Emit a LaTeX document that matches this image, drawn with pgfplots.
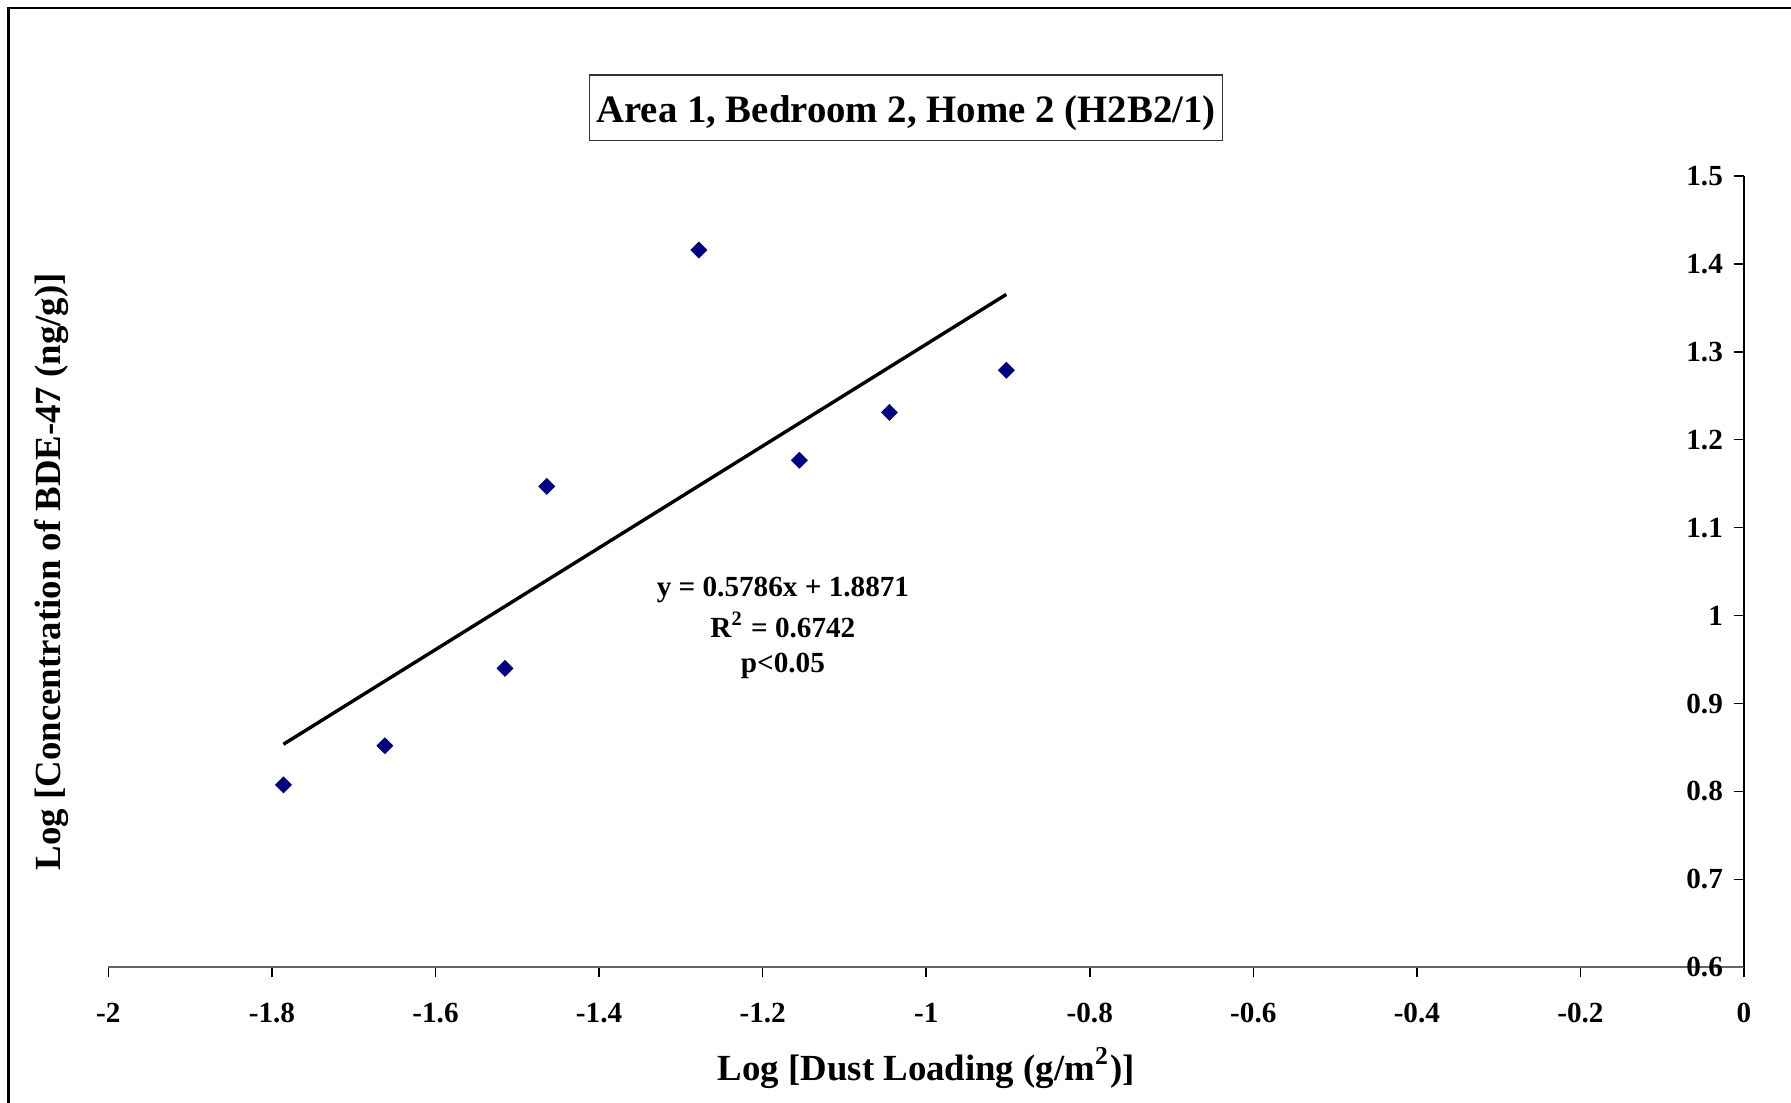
\documentclass[border=0pt]{standalone}
\usepackage{fontspec}
\setmainfont{Liberation Serif}
\usepackage{pgfplots}
\pgfplotsset{compat=1.18}
\definecolor{navy}{HTML}{000080}
\begin{document}
\begin{tikzpicture}
\useasboundingbox (0,0) rectangle (447.75pt,275.75pt);
\draw[line width=0.6pt] (2.1pt,-20pt) -- (2.1pt,273.7pt) -- (470pt,273.7pt);
\begin{axis}[
  at={(27.1pt,33.9pt)}, anchor=south west,
  scale only axis, width=408.9pt, height=197.9pt,
  xmin=-2, xmax=0, ymin=0.6, ymax=1.5,
  enlargelimits=false,
  axis x line=bottom, axis y line=right,
  axis line style={-},
  x axis line style={draw=black!60, line width=0.5pt},
  y axis line style={draw=black, line width=0.4pt},
  xtick={-2,-1.8,-1.6,-1.4,-1.2,-1,-0.8,-0.6,-0.4,-0.2,0},
  ytick={0.6,0.7,0.8,0.9,1,1.1,1.2,1.3,1.4,1.5},
  xtick align=outside, ytick align=inside,
  major tick length=2.5pt,
  tick style={draw=black, line width=0.4pt},
  /pgf/number format/assume math mode=true,
  tick label style={font=\bfseries\fontsize{7.3}{8}\selectfont},
  xticklabel style={yshift=-2.9pt},
  yticklabel style={anchor=east, xshift=-1.75pt},
  xlabel={Log [Dust Loading (g/m\textsuperscript{2})]},
  ylabel={Log [Concentration of BDE-47 (ng/g)]},
  label style={font=\bfseries\fontsize{9.2}{11}\selectfont},
  xlabel style={at={(axis description cs:0.5,-0.127)}, anchor=center},
  ylabel style={at={(axis description cs:-0.035,0.5)}, anchor=center, rotate=0},
  clip=false,
]
\addplot[only marks, mark=square*, mark size=1.3pt, mark options={rotate=45, draw=navy, fill=navy}]
coordinates {
(-1.786,0.8075) (-1.662,0.852) (-1.515,0.940) (-1.464,1.147)
(-1.278,1.4156) (-1.155,1.1766) (-1.045,1.231) (-0.902,1.279)
};
\addplot[black, line width=0.85pt] coordinates {(-1.786,0.8537) (-0.902,1.3652)};
\node[anchor=base, font=\bfseries\fontsize{7.3}{9}\selectfont] at (axis description cs:0.4124,0.4685) {y = 0.5786x + 1.8871};
\node[anchor=base, font=\bfseries\fontsize{7.3}{9}\selectfont] at (axis description cs:0.4124,0.4165) {R\textsuperscript{2} = 0.6742};
\node[anchor=base, font=\bfseries\fontsize{7.3}{9}\selectfont] at (axis description cs:0.4124,0.3725) {p<0.05};
\node[draw=black!80, line width=0.4pt, fill=white, inner xsep=1.7pt, inner ysep=0pt,
  text height=11.8pt, text depth=4.6pt, anchor=base,
  font=\bfseries\fontsize{9.7}{11}\selectfont] at (axis description cs:0.4876,1.0679)
  {Area 1, Bedroom 2, Home 2 (H2B2/1)};
\end{axis}
\end{tikzpicture}
\end{document}
